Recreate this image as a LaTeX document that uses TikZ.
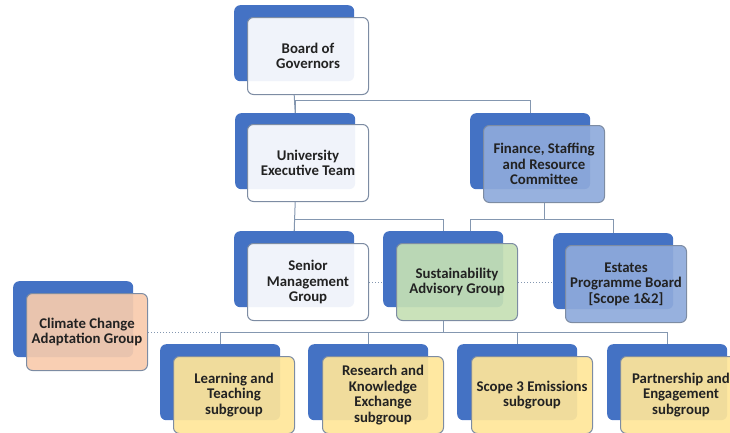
\documentclass[tikz,border=0pt]{standalone}
\usepackage{fontspec}
\setmainfont{Carlito}
\usetikzlibrary{calc}
\definecolor{backblue}{HTML}{4472C4}
\definecolor{edgegray}{HTML}{7D8CA3}
\definecolor{linkgray}{HTML}{8497B0}
\definecolor{textgray}{HTML}{222222}
\definecolor{paleblue}{HTML}{8EAADB}
\definecolor{palegreen}{HTML}{C5E0B4}
\definecolor{paleyellow}{HTML}{FFE699}
\definecolor{palepeach}{HTML}{F8CBAD}
\tikzset{
  back/.style={rectangle,rounded corners=6pt,fill=backblue,inner sep=0pt,
    minimum width=120pt,minimum height=76pt,anchor=north west},
  front/.style={rectangle,rounded corners=6pt,draw=edgegray,line width=1pt,
    fill=#1,fill opacity=.92,text opacity=1,inner sep=0pt,
    minimum width=121pt,minimum height=77pt,anchor=north west,align=center,
    text=textgray,font=\bfseries\fontsize{14.8}{15.5}\selectfont},
  front/.default=white,
  link/.style={draw=linkgray,line width=1pt},
  weak/.style={draw=linkgray,line width=1pt,dotted},
}
\begin{document}
\begin{tikzpicture}[x=1pt,y=-1pt]
  \useasboundingbox (0,0) rectangle (730,432);
  \clip (0,0) rectangle (730,432);
  % back plates
  \node[back] (bogb) at (234,5) {};
  \node[back] (uetb) at (235,113) {};
  \node[back] (fsrcb) at (470,113) {};
  \node[back] (smgb) at (234,231) {};
  \node[back] (sagb) at (383,231) {};
  \node[back] (epbb) at (553,233) {};
  \node[back] (ccab) at (13,281) {};
  \node[back] (ltsb) at (160,344) {};
  \node[back] (rkeb) at (308,344) {};
  \node[back] (s3sb) at (457,344) {};
  \node[back] (pesb) at (607,344) {};
  % front boxes
  \node[front] (bog) at (247,17) {Board of\\Governors};
  \node[front] (uet) at (247,124) {University\\Executive Team};
  \node[front=paleblue] (fsrc) at (483,125) {Finance, Staffing\\and Resource\\Committee};
  \node[front] (smg) at (247,243) {Senior\\Management\\Group};
  \node[front=palegreen] (sag) at (396,243) {Sustainability\\Advisory Group};
  \node[front=paleblue] (epb) at (565,245) {Estates\\Programme Board\\{[Scope 1\&2]}};
  \node[front=palepeach] (cca) at (26,293) {Climate Change\\Adaptation Group};
  \node[front=paleyellow] (lts) at (173,356) {Learning and\\Teaching\\subgroup};
  \node[front=paleyellow] (rke) at (322,356) {Research and\\Knowledge\\Exchange\\subgroup};
  \node[front=paleyellow] (s3s) at (471,356) {Scope 3 Emissions\\subgroup};
  \node[front=paleyellow] (pes) at (620,356) {Partnership and\\Engagement\\subgroup};
  % connectors
  \draw[link] (bogb.south |- bog.south) -- (uetb.north);
  \draw[link] (uetb.north) -- ++(0,-13) -| (fsrcb.north);
  \draw[link] (uetb.south |- uet.south) -- (smgb.north);
  \draw[link] (smgb.north) -- ++(0,-12) -| (sagb.north);
  \draw[link] (fsrc.south) -- ++(0,17);
  \draw[link] ($(sagb.north)+(27,0)$) -- ++(0,-12) -| (epbb.north);
  \draw[link] (sagb.south |- sag.south) -- ++(0,12);
  \draw[link] (ltsb.north) -- ++(0,-12) -| (pesb.north);
  \draw[link] (rkeb.north) -- ++(0,-12);
  \draw[link] (s3sb.north) -- ++(0,-12);
  \draw[weak] (smg.east) -- (smg.east -| sagb.west);
  \draw[weak] (sag.east) -- (sag.east -| epbb.west);
  \draw[weak] (cca.east) -- (cca.east -| ltsb.north);
\end{tikzpicture}
\end{document}
